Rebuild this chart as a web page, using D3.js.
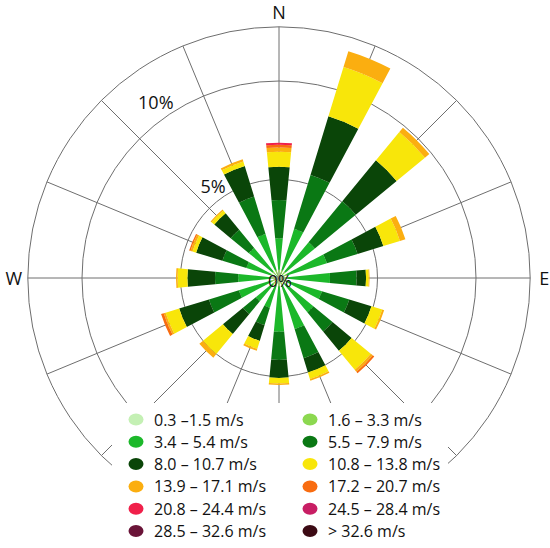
<!DOCTYPE html>
<html>
<head>
<meta charset="utf-8">
<script src="https://cdn.jsdelivr.net/npm/d3@7"></script>
<style>
  html, body { margin: 0; padding: 0; background: #fff; }
  svg { display: block; font-family: "Open Sans", "Noto Sans", sans-serif; }
</style>
</head>
<body>
<svg id="chart" width="550" height="548"></svg>
<script>
// ---- data ----
const directions = ["N","NNE","NE","ENE","E","ESE","SE","SSE","S","SSW","SW","WSW","W","WNW","NW","NNW"];
const binLabels = ["0.3 \u20131.5 m/s","1.6 \u2013 3.3 m/s","3.4 \u2013 5.4 m/s","5.5 \u2013 7.9 m/s",
  "8.0 \u2013 10.7 m/s","10.8 \u2013 13.8 m/s","13.9 \u2013 17.1 m/s","17.2 \u2013 20.7 m/s",
  "20.8 \u2013 24.4 m/s","24.5 \u2013 28.4 m/s","28.5 \u2013 32.6 m/s","> 32.6 m/s"];
const binColors = ["#c4f0b4","#8cd850","#1cb82a","#0a7814","#0a4508","#f8e60a","#fbae10","#f86c10",
  "#f0204a","#c81e64","#6a1438","#3c0a14"];
// frequency (%) per direction, one array per speed bin
const s0315 = [0.12,0.12,0.12,0.12,0.12,0.12,0.12,0.12,0.12,0.12,0.12,0.12,0.12,0.12,0.12,0.12];
const s1633 = [0.30,0.30,0.30,0.30,0.30,0.30,0.30,0.30,0.30,0.30,0.30,0.30,0.30,0.30,0.30,0.30];
const s3454 = [1.60,2.20,1.94,2.12,2.17,1.86,1.84,2.29,2.31,1.16,1.11,1.71,1.65,1.31,1.56,1.92];
const s5579 = [1.94,2.85,2.69,1.63,1.35,1.45,1.26,1.55,1.43,0.92,0.84,1.59,1.18,1.27,1.20,1.98];
const s8010 = [1.69,3.11,2.69,1.37,0.48,1.18,1.26,0.76,0.92,0.84,1.32,1.58,1.40,1.40,1.08,1.63];
const s1013 = [0.76,2.62,1.86,0.88,0.14,0.57,1.26,0.34,0.27,0.42,1.31,0.72,0.50,0.19,0.18,0.24];
const s1317 = [0.22,0.84,0.29,0.29,0.04,0.10,0.13,0.09,0.08,0.10,0.24,0.10,0.08,0.11,0.06,0.11];
const s1720 = [0.14,0.00,0.00,0.00,0.00,0.00,0.10,0.00,0.00,0.00,0.00,0.14,0.00,0.07,0.00,0.00];
const s2024 = [0.10,0.00,0.00,0.00,0.00,0.00,0.00,0.00,0.00,0.00,0.00,0.00,0.00,0.00,0.00,0.00];
const s2428 = [0,0,0,0,0,0,0,0,0,0,0,0,0,0,0,0];
const s2832 = [0,0,0,0,0,0,0,0,0,0,0,0,0,0,0,0];
const s32up = [0,0,0,0,0,0,0,0,0,0,0,0,0,0,0,0];
const binSeries = [s0315,s1633,s3454,s5579,s8010,s1013,s1317,s1720,s2024,s2428,s2832,s32up];
const ringTicks = [5, 10];
const ringLabels = ["5%", "10%"];
const outerPct = 12.75;
const compass = [{t:"N", a:0},{t:"E", a:90},{t:"W", a:270}];

// ---- layout ----
const svg = d3.select("#chart");
const cx = 279, cy = 278;
const r = d3.scaleLinear().domain([0, 10]).range([0, 197]);
const step = 2*Math.PI/directions.length;
const halfW = (5.5 * Math.PI / 180);

const g = svg.append("g").attr("transform", `translate(${cx},${cy})`);
const gridColor = "#6e6e6e";

// rings
[...ringTicks, outerPct].forEach(v => {
  g.append("circle").attr("r", r(v)).attr("fill", "none")
    .attr("stroke", gridColor).attr("stroke-width", 1);
});
// spokes
directions.forEach((d, i) => {
  const a = i * step;
  g.append("line").attr("x1", 0).attr("y1", 0)
    .attr("x2", r(outerPct) * Math.sin(a)).attr("y2", -r(outerPct) * Math.cos(a))
    .attr("stroke", gridColor).attr("stroke-width", 1);
});

// bars
const table = directions.map((d, i) => {
  const row = {dir: d};
  binLabels.forEach((b, k) => row[b] = binSeries[k][i]);
  return row;
});
const stack = d3.stack().keys(binLabels)(table);
const arc = d3.arc();
stack.forEach((layer, k) => {
  g.append("g").selectAll("path").data(layer).join("path")
    .attr("fill", binColors[k])
    .attr("d", (p, i) => {
      if (p[1] - p[0] <= 0) return null;
      const a = i * step;
      return arc({innerRadius: r(p[0]), outerRadius: r(p[1]),
                  startAngle: a - halfW, endAngle: a + halfW});
    });
});

// ring labels
const la = -32 * Math.PI / 180;
ringTicks.forEach((v, i) => {
  const rr = r(v) + 2;
  g.append("text").attr("x", rr * Math.sin(la)).attr("y", -rr * Math.cos(la))
    .attr("text-anchor", "end").attr("font-size", 18).attr("fill", "#111")
    .text(ringLabels[i]);
});
g.append("text").attr("x", 1).attr("y", 4).attr("text-anchor", "middle")
  .attr("dominant-baseline", "middle").attr("font-size", 17).attr("fill", "#111").text("0%");

// compass labels
compass.forEach(c => {
  const a = c.a * Math.PI / 180;
  const rr = r(outerPct) + 14;
  g.append("text").attr("x", rr * Math.sin(a)).attr("y", -rr * Math.cos(a) + 6.5)
    .attr("text-anchor", "middle").attr("font-size", 18).attr("fill", "#111").text(c.t);
});

// legend
svg.append("rect").attr("x", 112).attr("y", 403).attr("width", 336).attr("height", 145).attr("fill", "#fff");
const leg = svg.append("g");
const colX = [136, 310];
const rowY = d3.scaleLinear().domain([0, 5]).range([419.5, 531]);
binLabels.forEach((b, k) => {
  const col = k % 2, row = Math.floor(k / 2);
  const x = colX[col], y = rowY(row);
  leg.append("ellipse").attr("cx", x).attr("cy", y).attr("rx", 7.5).attr("ry", 6)
    .attr("fill", binColors[k]);
  leg.append("text").attr("x", x + 18).attr("y", y + 6)
    .attr("font-size", 16).attr("fill", "#111").text(b);
});
</script>
</body>
</html>
